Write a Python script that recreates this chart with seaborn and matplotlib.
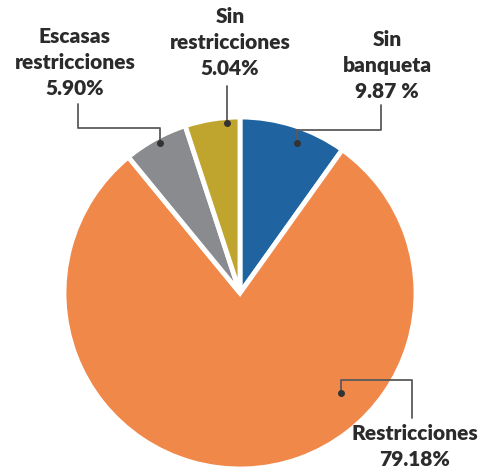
import matplotlib
matplotlib.use("Agg")
import matplotlib.pyplot as plt
import seaborn as sns

# shares of each street category (%), clockwise from 12 o'clock
categories = ["Sin banqueta", "Restricciones", "Escasas restricciones", "Sin restricciones"]
shares = [9.87, 79.18, 5.90, 5.04]
labels = ["Sin\nbanqueta\n9.87 %", "Restricciones\n79.18%",
          "Escasas\nrestricciones\n5.90%", "Sin\nrestricciones\n5.04%"]
colors = ["#1f64a0", "#f0884a", "#898b8e", "#bfa42e"]

sns.set_theme(style="white")
plt.rcParams["font.family"] = ["Lato", "DejaVu Sans"]

fig = plt.figure(figsize=(4.89, 4.70), dpi=100)
ax = fig.add_axes([0, 0, 1, 1])

# pixel-like coordinates, y downwards -> angles run clockwise on screen
ax.pie(shares, colors=colors, center=(240, 293), radius=176,
       startangle=-90, counterclock=True,
       wedgeprops=dict(edgecolor="white", linewidth=3.5))
ax.set_xlim(0, 489)
ax.set_ylim(470, 0)
ax.set_aspect("equal")
ax.axis("off")

txt = dict(ha="center", va="top", fontsize=15, fontweight="heavy",
           color="#2b2b2b", linespacing=1.45)
ax.text(387, 30, labels[0], **txt)
ax.text(415, 424, labels[1], **txt)
ax.text(75, 27, labels[2], **txt)
ax.text(230, 7, labels[3], **txt)

line = dict(color="#5a5a5a", lw=1.3)
dot = dict(marker="o", ms=4, color="#333333")
# Sin banqueta
ax.plot([381, 381, 297, 297], [105, 130, 130, 143], **line)
ax.plot(297, 143, **dot)
# Restricciones
ax.plot([341, 341, 412, 412], [393, 380, 380, 418], **line)
ax.plot(341, 393, **dot)
# Escasas restricciones
ax.plot([78, 78, 160, 160], [104, 128, 128, 143], **line)
ax.plot(160, 143, **dot)
# Sin restricciones
ax.plot([227, 227], [86, 123], **line)
ax.plot(227, 123, **dot)

fig.savefig("out.png", dpi=100)
